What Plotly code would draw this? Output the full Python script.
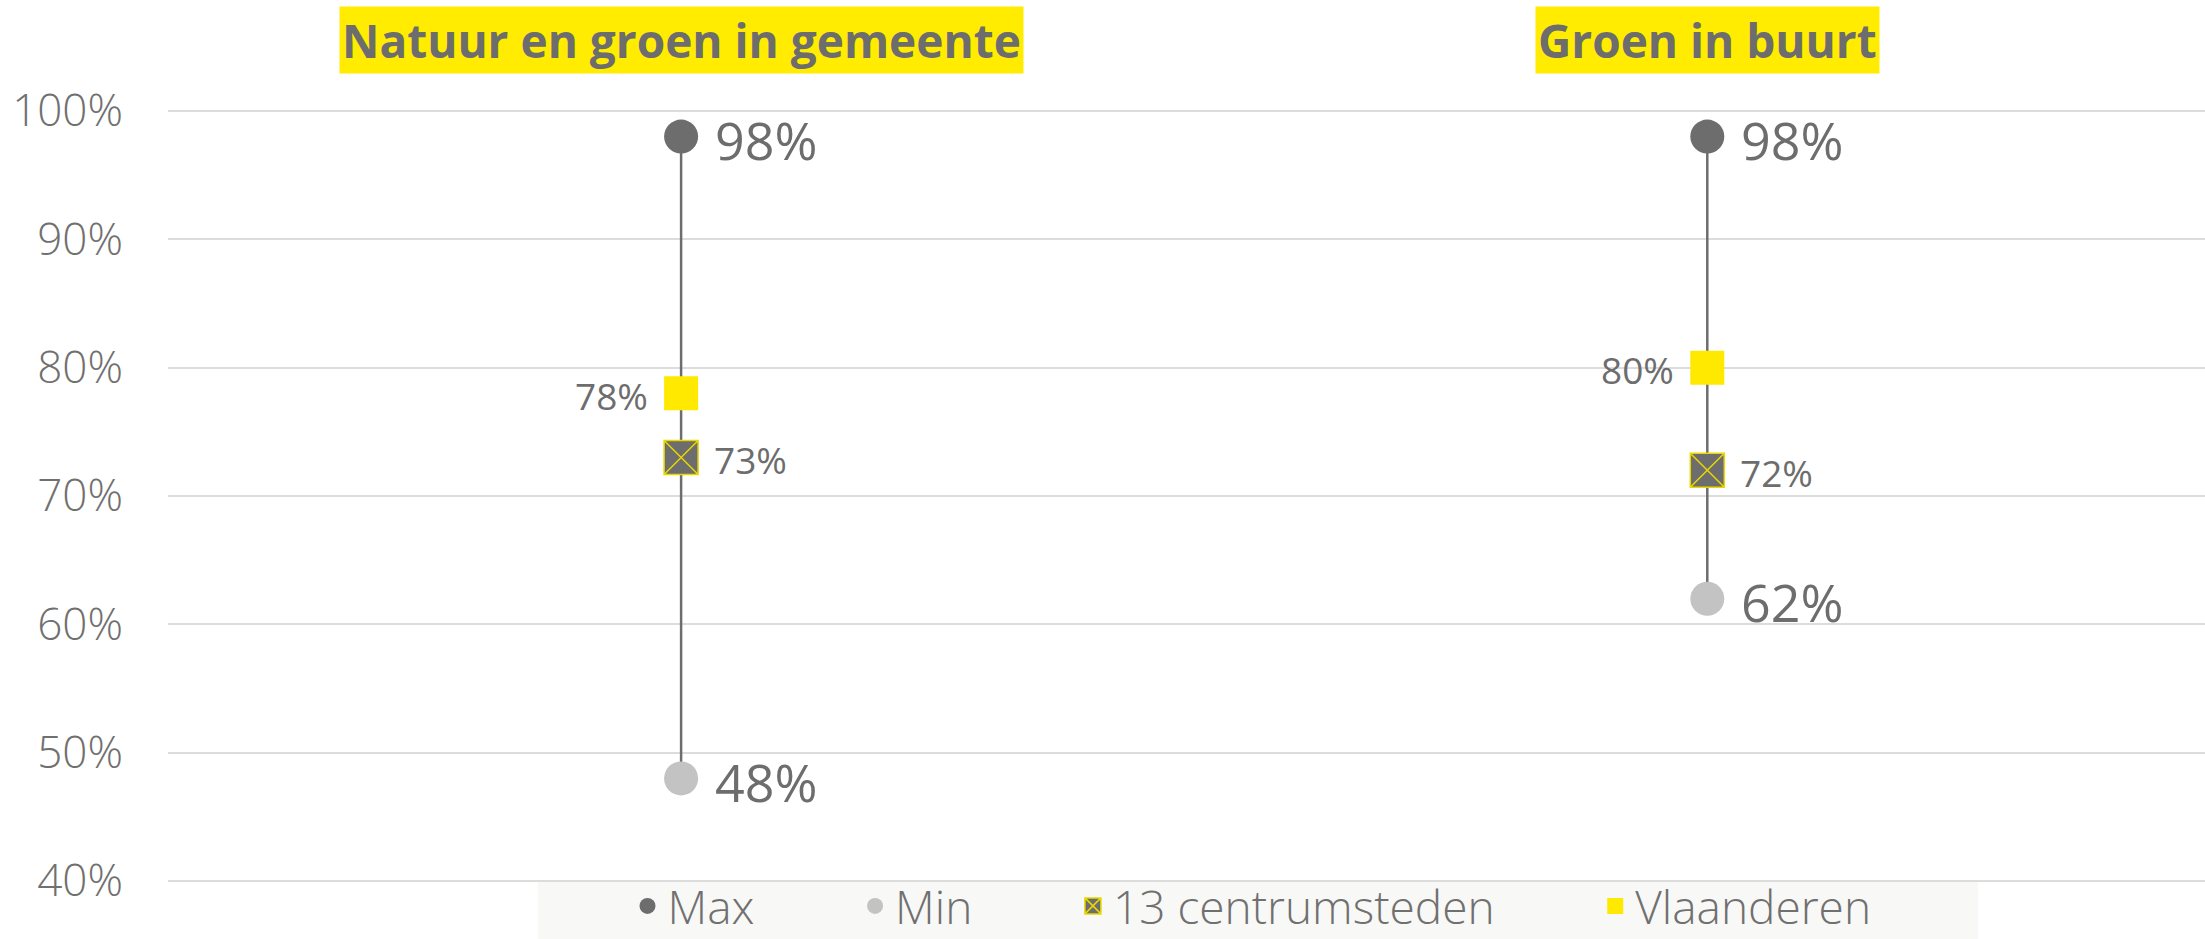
import plotly.graph_objects as go

# ---- data ----
categories = ["Natuur en groen in gemeente", "Groen in buurt"]
max_vals = [98, 98]
min_vals = [48, 62]
centrum_vals = [73, 72]
vlaanderen_vals = [78, 80]
y_ticks = [40, 50, 60, 70, 80, 90, 100]
legend_names = ["Max", "Min", "13 centrumsteden", "Vlaanderen"]

DARK = "#6d6d6d"
LIGHT = "#c3c3c3"
YELLOW = "#ffe900"
TEXT = "#707070"
FONT = "Open Sans"
NB = "\u00a0"

W, H = 2205, 939
ML, MT, MB = 168, 109, 56
PH = H - MT - MB
PW = W - ML

fig = go.Figure()

# vertical range lines
lx, ly = [], []
for c, lo, hi in zip(categories, min_vals, max_vals):
    lx += [c, c, None]
    ly += [lo, hi, None]
fig.add_trace(go.Scatter(x=lx, y=ly, mode="lines", line=dict(color=DARK, width=2.5),
                         showlegend=False, hoverinfo="skip"))

fig.add_trace(go.Scatter(x=categories, y=max_vals, mode="markers", name=legend_names[0] + NB * 8,
                         marker=dict(symbol="circle", size=34, color=DARK)))
fig.add_trace(go.Scatter(x=categories, y=min_vals, mode="markers", name=legend_names[1] + NB * 8,
                         marker=dict(symbol="circle", size=34, color=LIGHT)))
fig.add_trace(go.Scatter(x=categories, y=centrum_vals, mode="markers", name=legend_names[2] + NB * 8,
                         marker=dict(symbol="square-x", size=34, color=DARK,
                                     line=dict(color="#e8d800", width=1.5))))
fig.add_trace(go.Scatter(x=categories, y=vlaanderen_vals, mode="markers", name=legend_names[3],
                         marker=dict(symbol="square", size=34, color=YELLOW)))

ann = []
# category titles
for c in categories:
    ann.append(dict(x=c, y=1, xref="x", yref="paper", yshift=69, yanchor="middle",
                    xanchor="center", showarrow=False, text=c, bgcolor="#ffec00", borderpad=2,
                    font=dict(family=FONT, size=46, color=DARK, weight=700)))
# data labels
for c, v in zip(categories, max_vals):
    ann.append(dict(x=c, y=v, xref="x", yref="y", xanchor="left", xshift=32, yshift=-3,
                    showarrow=False, text=f"{v}%", font=dict(family=FONT, size=52, color=DARK)))
for c, v in zip(categories, min_vals):
    ann.append(dict(x=c, y=v, xref="x", yref="y", xanchor="left", xshift=32, yshift=-3,
                    showarrow=False, text=f"{v}%", font=dict(family=FONT, size=52, color=DARK)))
for c, v in zip(categories, centrum_vals):
    ann.append(dict(x=c, y=v, xref="x", yref="y", xanchor="left", xshift=31, yshift=-2,
                    showarrow=False, text=f"{v}%", font=dict(family=FONT, size=37, color=DARK)))
for c, v in zip(categories, vlaanderen_vals):
    ann.append(dict(x=c, y=v, xref="x", yref="y", xanchor="right", xshift=-31, yshift=-2,
                    showarrow=False, text=f"{v}%", font=dict(family=FONT, size=37, color=DARK)))

fig.update_layout(
    width=W, height=H,
    margin=dict(l=ML, r=0, t=MT, b=MB, autoexpand=False),
    paper_bgcolor="white", plot_bgcolor="white",
    font=dict(family=FONT, color=TEXT),
    annotations=ann,
    showlegend=True,
    legend=dict(orientation="h", xref="container", yref="container",
                x=1252 / W, xanchor="center", y=33 / H, yanchor="middle",
                bgcolor="rgba(0,0,0,0)", font=dict(family=FONT, size=46, color=TEXT, weight=300),
                itemsizing="trace"),
    shapes=[dict(type="rect", xref="paper", yref="paper",
                 x0=(538 - ML) / PW, x1=(1978 - ML) / PW,
                 y0=(MT + PH - 882) / PH, y1=(MT + PH - 945) / PH,
                 fillcolor="#f8f8f6", line=dict(width=0), layer="below")],
)
fig.update_xaxes(type="category", range=[-0.5, 1.485], showgrid=False, showticklabels=False,
                 zeroline=False, showline=False, ticks="", automargin=False)
fig.update_yaxes(range=[39.85, 100.15], tickvals=y_ticks, ticktext=[f"{v}%" for v in y_ticks],
                 showgrid=True, gridcolor="#dcdcdc", gridwidth=1.5, zeroline=False, showline=False,
                 tickfont=dict(family=FONT, size=44, color=TEXT, weight=300),
                 ticklabelstandoff=44, automargin=False)

fig.write_html("out.html", config={"displayModeBar": False},
               post_script="document.body.style.margin='0';")
